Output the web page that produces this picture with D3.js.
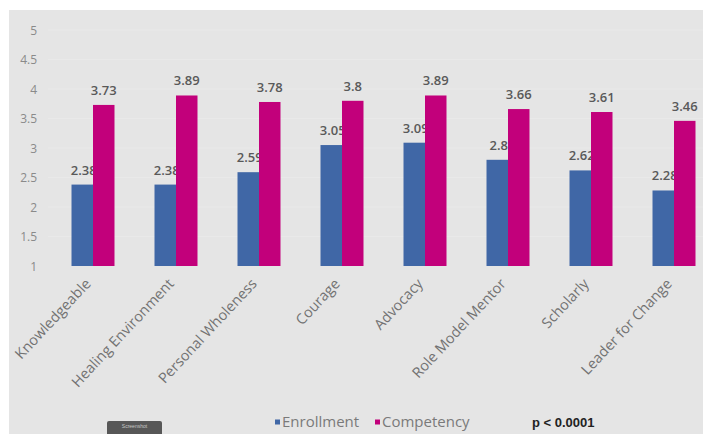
<!DOCTYPE html>
<html>
<head>
<meta charset="utf-8">
<script src="https://cdn.jsdelivr.net/npm/d3@7"></script>
<style>
  html, body { margin: 0; padding: 0; background: #ffffff; }
  svg { display: block; }
</style>
</head>
<body>
<svg id="chart" width="703" height="434"></svg>
<script>
// Mean scores per attribute, at enrollment and at competency
const categories = ["Knowledgeable", "Healing Environment", "Personal Wholeness", "Courage",
                    "Advocacy", "Role Model Mentor", "Scholarly", "Leader for Change"];
const enrollment = [2.38, 2.38, 2.59, 3.05, 3.09, 2.8, 2.62, 2.28];
const competency = [3.73, 3.89, 3.78, 3.8, 3.89, 3.66, 3.61, 3.46];
const seriesNames = ["Enrollment", "Competency"];
const seriesColors = ["#4067a6", "#c2007b"];
const yTicks = [1, 1.5, 2, 2.5, 3, 3.5, 4, 4.5, 5];
const pValueText = "p < 0.0001";

const svg = d3.select("#chart");
const W = 703, H = 434;

// panel background
svg.append("rect").attr("x", 9).attr("y", 10).attr("width", W - 9).attr("height", H - 10)
  .attr("fill", "#e5e5e5");

const y = d3.scaleLinear().domain([1, 5]).range([266, 30]);
const x0 = d3.scaleBand().domain(categories).range([51.5, 715.5])
  .paddingInner(0.482).paddingOuter(0.241);
const x1 = d3.scaleBand().domain(seriesNames).range([0, x0.bandwidth()]);

// faint horizontal gridlines
svg.append("g").selectAll("line").data(yTicks.slice(1)).join("line")
  .attr("x1", 48).attr("x2", W)
  .attr("y1", d => y(d)).attr("y2", d => y(d))
  .attr("stroke", "#e9e9e9").attr("stroke-width", 1);

// y axis labels
const yAxis = d3.axisLeft(y).tickValues(yTicks).tickSize(0).tickPadding(0)
  .tickFormat(d3.format("~g"));
const yg = svg.append("g").attr("transform", "translate(37,0.5)").call(yAxis);
yg.select(".domain").remove();
yg.selectAll("text").attr("font-family", "Open Sans, sans-serif").attr("font-size", 12)
  .attr("fill", "#8a8a8a");

const rows = categories.map((c, i) => ({ cat: c, vals: [enrollment[i], competency[i]] }));
const groups = svg.append("g").selectAll("g").data(rows).join("g")
  .attr("transform", d => `translate(${x0(d.cat)},0)`);

const labelFont = "Open Sans, sans-serif";
// enrollment labels sit a little right of their bar centre and run under the next bar
const labelShift = [1.5, 0];

// enrollment bars and labels first, so the competency bars overlap their labels
seriesNames.forEach((s, k) => {
  groups.append("rect")
    .attr("x", x1(s)).attr("width", x1.bandwidth())
    .attr("y", d => y(d.vals[k])).attr("height", d => y(1) - y(d.vals[k]))
    .attr("fill", seriesColors[k]);
  groups.append("text")
    .attr("x", x1(s) + x1.bandwidth() / 2 + labelShift[k])
    .attr("y", d => y(d.vals[k]) - 10)
    .attr("text-anchor", "middle")
    .attr("font-family", labelFont).attr("font-size", 13).attr("font-weight", 600)
    .attr("fill", "#595959")
    .text(d => d.vals[k]);
});

// category labels, rotated
svg.append("g").selectAll("text").data(categories).join("text")
  .attr("transform", d => `translate(${x0(d) + x0.bandwidth() / 2 - 5},281) rotate(-47)`)
  .attr("text-anchor", "end")
  .attr("dy", "0.35em")
  .attr("font-family", labelFont).attr("font-size", 14.5)
  .attr("fill", "#727272")
  .text(d => d);

// legend
const legendItems = [
  { name: seriesNames[0], color: seriesColors[0], x: 275 },
  { name: seriesNames[1], color: seriesColors[1], x: 375 }
];
const lg = svg.append("g").selectAll("g").data(legendItems).join("g")
  .attr("transform", d => `translate(${d.x},422)`);
lg.append("rect").attr("x", 0).attr("y", -2.5).attr("width", 5).attr("height", 5)
  .attr("fill", d => d.color);
lg.append("text").attr("x", 7).attr("dy", "0.35em")
  .attr("font-family", labelFont).attr("font-size", 15).attr("fill", "#7a7a7a")
  .text(d => d.name);

svg.append("text").attr("x", 532).attr("y", 422).attr("dy", "0.35em")
  .attr("font-family", "Liberation Sans, Arial, sans-serif").attr("font-size", 13)
  .attr("font-weight", "bold").attr("fill", "#222")
  .text(pValueText);

// small dark button at the lower left
const btn = svg.append("g").attr("transform", "translate(107,421)");
btn.append("rect").attr("width", 55).attr("height", 16).attr("rx", 2)
  .attr("fill", "#575757");
btn.append("text").attr("x", 27.5).attr("y", 7).attr("text-anchor", "middle")
  .attr("font-family", "Liberation Sans, sans-serif").attr("font-size", 5)
  .attr("fill", "#c8c8c8").text("Screenshot");
</script>
</body>
</html>
